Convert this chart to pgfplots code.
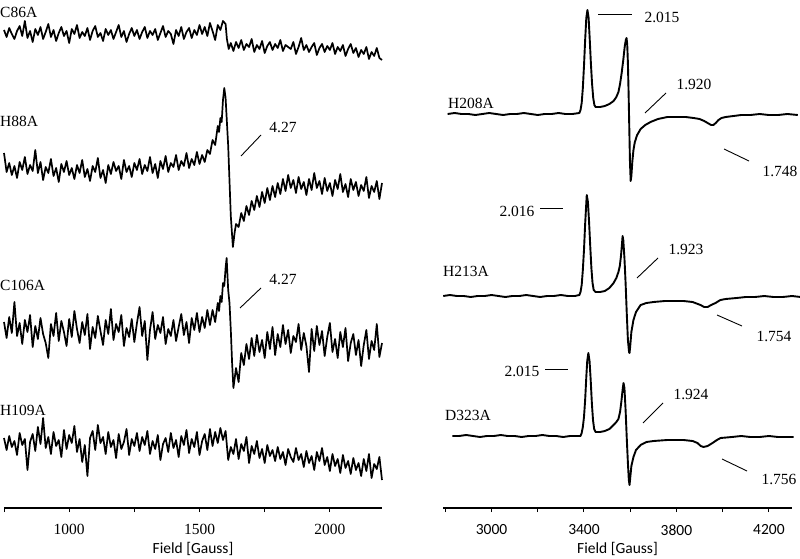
\documentclass[border=0pt]{standalone}
\usepackage{fontspec}
\setmainfont{Liberation Serif}
\newfontfamily\sansf{Carlito}
\usepackage{pgfplots}
\pgfplotsset{compat=1.18}
\newcommand\lab{\fontsize{15.5}{18}\selectfont}

\pgfplotsset{
  epr/.style={scale only axis, anchor=south west, ymin=50, ymax=558,
    hide y axis, axis x line=bottom, clip=false,
    x axis line style={-, line width=1.2pt},
    tick align=outside, major tick length=4pt,
    tick style={black, line width=1pt},
    xlabel={Field [Gauss]},
    xlabel style={font=\sansf\lab},
    /pgf/number format/assume math mode=true},
  trace/.style={black, line width=1.7pt, line join=round},
  smooth trace/.style={black, line width=1.9pt, line join=round},
}

\begin{document}
\begin{tikzpicture}
\useasboundingbox (0pt,0pt) rectangle (800pt,558pt);

% left panel: weak g=4.27 signals
\begin{axis}[epr, at={(4pt,50pt)}, width=378pt, height=508pt,
    xmin=750, xmax=2200,
    xtick={750,1000,...,2000}, xticklabels={,1000,,1500,,2000},
    xticklabel style={font=\lab, yshift=-9pt}]
% C86A
\addplot[trace] coordinates {
(750,528)(760,521)(770,530)(780,524)(790,519)(800,527)(810,532)(820,522)(830,537)(840,520)
(850,527)(860,516)(870,529)(880,523)(890,531)(900,519)(910,526)(920,534)(930,521)(940,528)
(950,517)(960,525)(970,531)(980,522)(990,527)(1000,515)(1010,529)(1020,524)(1030,533)(1040,520)
(1050,526)(1060,522)(1070,530)(1080,518)(1090,527)(1100,532)(1110,521)(1120,525)(1130,517)(1140,529)
(1150,523)(1160,528)(1170,519)(1180,526)(1190,533)(1200,521)(1210,527)(1220,516)(1230,524)(1240,530)
(1250,522)(1260,528)(1270,519)(1280,526)(1290,531)(1300,520)(1310,527)(1320,523)(1330,529)(1340,518)
(1350,525)(1360,532)(1370,521)(1380,527)(1390,524)(1400,514)(1410,528)(1420,522)(1430,531)(1440,519)
(1450,526)(1460,530)(1470,520)(1480,528)(1490,523)(1500,533)(1510,524)(1520,531)(1530,522)(1540,535)
(1550,527)(1560,518)(1570,533)(1580,528)(1590,537)(1600,534)(1605,519)(1612,509)(1620,515)(1630,507)
(1640,516)(1650,510)(1660,518)(1670,508)(1680,514)(1690,511)(1700,519)(1710,506)(1720,513)(1730,509)
(1740,517)(1750,505)(1760,512)(1770,516)(1780,508)(1790,514)(1800,510)(1810,518)(1820,507)(1830,513)
(1850,509)(1860,516)(1870,504)(1880,511)(1890,520)(1900,508)(1910,513)(1920,506)(1930,511)(1940,515)
(1950,503)(1960,510)(1970,514)(1980,506)(1990,512)(2000,508)(2010,515)(2020,504)(2030,511)(2040,507)
(2050,513)(2060,502)(2070,509)(2080,514)(2090,505)(2100,510)(2110,501)(2120,508)(2130,504)(2140,511)
(2150,499)(2160,506)(2170,502)(2180,510)(2190,500)(2200,498)};
% H88A
\addplot[trace] coordinates {
(750,405)(760,386)(770,395)(780,383)(790,392)(800,380)(810,396)(820,388)(830,401)(840,384)
(850,393)(860,387)(870,408)(880,385)(890,396)(900,378)(910,391)(920,385)(930,399)(940,382)
(950,390)(960,376)(970,394)(980,386)(990,397)(1000,383)(1010,390)(1020,379)(1030,393)(1040,385)
(1050,398)(1060,381)(1070,389)(1080,377)(1090,392)(1100,386)(1110,400)(1120,380)(1130,388)(1140,375)
(1150,393)(1160,384)(1170,396)(1180,387)(1190,392)(1200,379)(1210,398)(1220,386)(1230,392)(1240,381)
(1250,395)(1260,388)(1270,399)(1280,384)(1290,393)(1300,387)(1310,401)(1320,385)(1330,394)(1340,380)
(1350,397)(1360,389)(1370,402)(1380,386)(1390,395)(1400,391)(1410,403)(1420,388)(1430,397)(1440,392)
(1450,405)(1460,390)(1470,399)(1480,393)(1490,406)(1500,394)(1510,403)(1520,396)(1530,408)(1540,404)
(1550,418)(1560,413)(1570,432)(1575,426)(1580,440)(1585,436)(1590,458)(1595,470)(1600,460)(1610,412)
(1620,342)(1628,311)(1635,326)(1640,334)(1650,331)(1660,345)(1670,337)(1680,352)(1690,343)(1700,357)
(1710,348)(1720,362)(1730,351)(1740,366)(1750,355)(1760,370)(1770,358)(1780,372)(1790,361)(1800,375)
(1810,364)(1820,379)(1830,367)(1840,383)(1850,370)(1860,378)(1870,365)(1880,381)(1890,369)(1900,376)
(1910,363)(1920,379)(1930,368)(1940,385)(1950,370)(1960,377)(1970,364)(1980,380)(1990,367)(2000,375)
(2010,362)(2020,378)(2030,369)(2040,384)(2050,366)(2060,374)(2070,361)(2080,379)(2090,368)(2100,376)
(2110,362)(2120,373)(2130,367)(2140,381)(2150,360)(2160,372)(2170,366)(2180,377)(2190,359)(2200,375)};
% C106A
\addplot[trace] coordinates {
(750,236)(760,220)(770,241)(780,225)(790,256)(800,222)(810,235)(820,214)(830,238)(840,226)
(850,243)(860,211)(870,232)(880,219)(890,240)(900,224)(910,215)(920,200)(930,234)(940,222)
(950,245)(960,217)(970,237)(980,226)(990,212)(1000,239)(1010,221)(1020,247)(1030,229)(1040,215)
(1050,236)(1060,223)(1070,244)(1080,209)(1090,231)(1100,220)(1110,242)(1120,227)(1130,213)(1140,238)
(1150,224)(1160,249)(1170,218)(1180,234)(1190,226)(1200,243)(1210,212)(1220,230)(1230,221)(1240,239)
(1250,216)(1260,235)(1270,251)(1280,222)(1290,237)(1300,198)(1310,228)(1320,246)(1330,219)(1340,233)
(1350,225)(1360,241)(1370,214)(1380,229)(1390,222)(1400,238)(1410,217)(1420,231)(1430,244)(1440,223)
(1450,236)(1460,215)(1470,240)(1480,228)(1490,245)(1500,226)(1510,241)(1520,230)(1530,248)(1540,233)
(1550,248)(1560,236)(1570,255)(1575,247)(1580,262)(1585,256)(1590,275)(1595,272)(1600,290)(1604,300)
(1610,268)(1615,255)(1620,228)(1625,195)(1630,170)(1635,180)(1640,190)(1650,176)(1660,205)(1670,193)
(1680,214)(1690,199)(1700,220)(1710,202)(1720,223)(1730,206)(1740,218)(1750,200)(1760,226)(1770,209)
(1780,231)(1790,203)(1800,224)(1810,211)(1820,233)(1830,214)(1840,228)(1850,205)(1860,222)(1870,216)
(1880,234)(1890,208)(1900,225)(1910,212)(1920,186)(1930,229)(1940,207)(1950,232)(1960,213)(1970,227)
(1980,202)(1990,221)(2000,235)(2010,206)(2020,219)(2030,200)(2040,226)(2050,211)(2060,230)(2070,197)
(2080,215)(2090,224)(2100,203)(2110,218)(2120,192)(2130,213)(2140,228)(2150,199)(2160,217)(2170,208)
(2180,234)(2190,201)(2200,215)};
% H109A
\addplot[trace] coordinates {
(750,120)(760,108)(770,122)(780,111)(790,117)(800,103)(810,125)(820,113)(830,119)(840,88)
(850,116)(860,124)(870,107)(880,131)(890,114)(900,140)(910,110)(920,121)(930,104)(940,126)
(950,112)(960,118)(970,101)(980,128)(990,109)(1000,123)(1010,115)(1020,132)(1030,106)(1040,119)
(1050,96)(1060,113)(1070,82)(1080,120)(1090,127)(1100,108)(1110,133)(1120,115)(1130,121)(1140,104)
(1150,126)(1160,111)(1170,118)(1180,100)(1190,124)(1200,109)(1210,116)(1220,129)(1230,103)(1240,119)
(1250,112)(1260,125)(1270,107)(1280,121)(1290,113)(1300,127)(1310,104)(1320,117)(1330,109)(1340,123)
(1350,98)(1360,114)(1370,120)(1380,106)(1390,125)(1400,110)(1410,118)(1420,101)(1430,122)(1440,113)
(1450,128)(1460,105)(1470,119)(1480,111)(1490,126)(1500,103)(1510,117)(1520,124)(1530,108)(1540,129)
(1550,112)(1560,126)(1570,115)(1580,130)(1590,118)(1600,127)(1610,98)(1620,111)(1630,104)(1640,119)
(1650,99)(1660,114)(1670,107)(1680,121)(1690,95)(1700,112)(1710,104)(1720,117)(1730,100)(1740,109)
(1750,95)(1760,113)(1770,102)(1780,108)(1790,97)(1800,111)(1810,99)(1820,106)(1830,93)(1840,109)
(1850,101)(1860,96)(1870,110)(1880,98)(1890,104)(1900,91)(1910,107)(1920,95)(1930,102)(1940,88)
(1950,106)(1960,97)(1970,110)(1980,93)(1990,101)(2000,87)(2010,104)(2020,92)(2030,99)(2040,85)
(2050,103)(2060,90)(2070,97)(2080,84)(2090,100)(2100,88)(2110,95)(2120,82)(2130,99)(2140,87)
(2150,104)(2160,80)(2170,94)(2180,89)(2190,101)(2200,78)};
\end{axis}

% right panel: g~2 signals
\begin{axis}[epr, at={(443pt,50pt)}, width=349pt, height=508pt,
    xmin=2790, xmax=4300,
    xtick={2800,3000,...,4200}, xticklabels={,3000,,3400,,3800,,4200},
    xticklabel style={font=\sansf\lab, yshift=-9pt}]
% H208A
\addplot[smooth trace] coordinates {
(2810,444)(2840,445)(2870,444)(2900,444)(2930,443)(2960,444)(2990,445)(3020,444)(3050,443)(3080,444)
(3110,444)(3140,445)(3170,444)(3200,443)(3230,444)(3260,444)(3290,445)(3320,444)(3350,444)(3380,445)
(3385,448)(3390,455)(3395,470)(3400,492)(3405,518)(3410,540)(3415,548)(3420,540)(3425,518)(3430,494)
(3435,474)(3440,460)(3445,453)(3450,451)(3470,451)(3490,452)(3510,454)(3528,457)(3540,461)(3549,466)
(3556,474)(3563,485)(3570,498)(3576,511)(3581,518)(3584,520)(3587,514)(3590,495)(3593,465)(3596,430)
(3599,395)(3602,377)(3605,382)(3609,396)(3614,408)(3620,416)(3630,423)(3645,429)(3665,433)(3688,436)
(3720,439)(3761,441)(3800,441)(3840,441)(3874,440)(3900,439)(3920,437)(3935,435)(3950,433)(3960,433)
(3970,435)(3982,438)(3995,440)(4013,441)(4047,442)(4080,443)(4120,443)(4160,444)(4200,443)(4240,443)
(4280,444)(4325,443)};
% H213A
\addplot[smooth trace] coordinates {
(2791,262)(2820,263)(2850,262)(2880,262)(2910,261)(2940,262)(2970,262)(3000,263)(3030,262)(3060,261)
(3090,262)(3120,262)(3150,263)(3180,262)(3210,261)(3240,262)(3270,262)(3300,263)(3330,262)(3360,262)
(3380,263)(3385,266)(3390,273)(3395,288)(3400,308)(3405,334)(3410,355)(3412,363)(3417,356)(3422,336)
(3427,312)(3432,290)(3437,275)(3442,268)(3450,266)(3470,266)(3490,267)(3510,270)(3528,275)(3540,280)
(3549,286)(3555,292)(3560,302)(3564,313)(3567,322)(3570,318)(3575,300)(3580,275)(3585,245)(3590,218)
(3595,206)(3597,205)(3600,212)(3605,226)(3614,238)(3625,246)(3645,253)(3670,255)(3701,256)(3750,257)
(3831,257)(3870,256)(3904,253)(3920,251)(3935,251)(3950,253)(3969,255)(3990,258)(4013,259)(4060,260)
(4100,261)(4140,261)(4180,262)(4220,261)(4260,261)(4300,262)(4337,261)};
% D323A
\addplot[smooth trace] coordinates {
(2830,122)(2860,122)(2890,123)(2920,122)(2950,121)(2980,122)(3010,122)(3040,123)(3070,122)(3100,122)
(3130,121)(3160,122)(3190,122)(3220,123)(3250,122)(3280,122)(3310,121)(3340,122)(3370,122)(3385,122)
(3390,125)(3395,131)(3400,141)(3405,158)(3410,181)(3414,197)(3419,205)(3424,197)(3429,178)(3434,155)
(3439,138)(3444,129)(3450,126)(3470,126)(3490,127)(3510,129)(3528,133)(3540,136)(3549,139)(3556,146)
(3562,157)(3567,168)(3571,175)(3575,170)(3580,148)(3585,120)(3590,95)(3594,78)(3597,73)(3600,80)
(3605,92)(3614,101)(3625,108)(3645,113)(3670,116)(3701,117)(3760,118)(3831,118)(3870,117)(3891,115)
(3905,112)(3917,111)(3935,112)(3956,115)(3975,118)(3991,120)(4040,121)(4080,122)(4120,121)(4160,121)
(4200,122)(4240,121)(4280,121)(4307,121)};
\end{axis}

\begin{scope}[x=1pt, y=1pt]
% sample names
\begin{scope}[every node/.style={font=\lab, inner sep=0pt, anchor=west}]
\node at (0,546) {C86A};
\node at (0,437) {H88A};
\node at (0,273) {C106A};
\node at (0,148) {H109A};
\node at (448,455) {H208A};
\node at (443,287) {H213A};
\node at (445,143) {D323A};
\end{scope}
% g-value annotations
\begin{scope}[every node/.style={font=\lab, inner sep=0pt}, line width=0.9pt]
\node at (283,431) {4.27}; \draw (241,402) -- (261,423);
\node at (283,279) {4.27}; \draw (240,250) -- (261,270);
\node at (662,541) {2.015}; \draw (598,544) -- (632,544);
\node at (694,474) {1.920}; \draw (645,445) -- (666,465);
\node at (780,387) {1.748}; \draw (724,409) -- (749,397);
\node at (517,347) {2.016}; \draw (540,350) -- (563,350);
\node at (686,309) {1.923}; \draw (637,280) -- (658,300);
\node at (774,222) {1.754}; \draw (717,243) -- (742,232);
\node at (522,187) {2.015}; \draw (545,189) -- (568,189);
\node at (691,164) {1.924}; \draw (643,135) -- (663,155);
\node at (779,79) {1.756}; \draw (722,99) -- (747,87);
\end{scope}
\end{scope}
\end{tikzpicture}
\end{document}
